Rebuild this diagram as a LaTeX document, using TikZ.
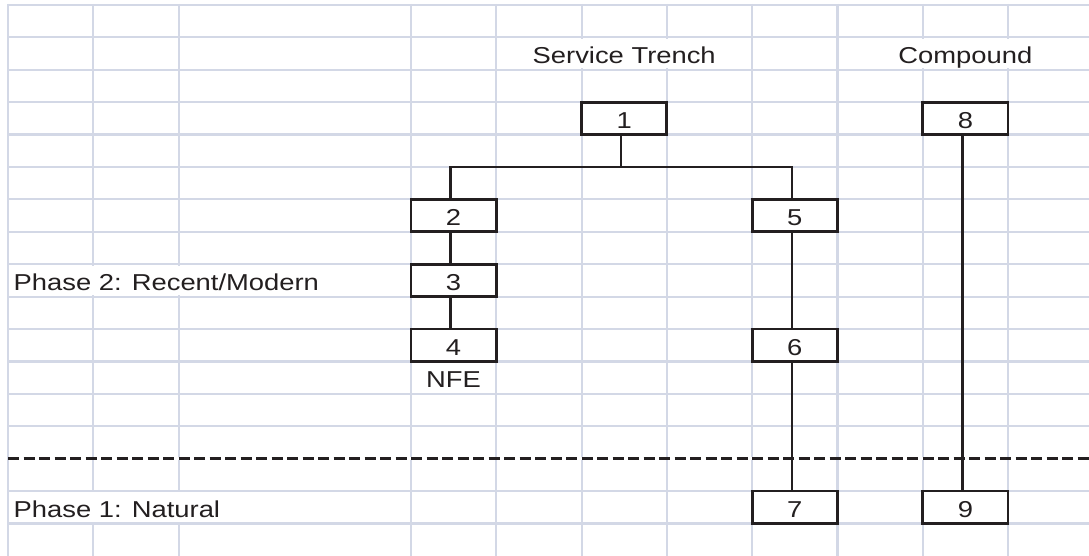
\documentclass[tikz,border=0pt]{standalone}
\usepackage{fontspec}
\setmainfont{Liberation Sans}
\definecolor{gridc}{HTML}{D3D8E6}
\definecolor{inkc}{HTML}{231F20}
\newcommand\wtxt[1]{\scalebox{1.19}[1]{#1}}
\begin{document}
\begin{tikzpicture}[x=1pt,y=-1pt,
  gridline/.style={draw=gridc,line width=2.2pt},
  unitbox/.style={draw=inkc,fill=white,line width=2.8pt,minimum width=85.3pt,minimum height=32.4pt,inner sep=0pt,
    text height=20.4pt,text depth=0pt,text=inkc,font=\fontsize{23}{27}\selectfont},
  link/.style={draw=inkc,line width=2.5pt},
  lbl/.style={inner sep=0pt,text=inkc,font=\fontsize{23}{27}\selectfont},
  phaseline/.style={draw=inkc,line width=2.6pt,dash pattern=on 11pt off 4.5pt}]
\fill[white] (0,0) rectangle (1089,556);
\useasboundingbox (0,0) rectangle (1089,556);
% grid
\foreach \k in {0,...,16}{
  \draw[gridline] (8,{5+32.4*\k}) -- (1089,{5+32.4*\k});
}
\foreach \xx in {8,93.3,178.6,411,496.3,581.6,666.9,752.2,837.5,922.8,1008.1}{
  \draw[gridline] (\xx,4) -- (\xx,556);
}
% cells whose text covers grid lines
\fill[white] (497.6,38.7) rectangle (750.9,68.5);
\fill[white] (838.8,38.7) rectangle (1089,68.5);
\fill[white] (9.3,265.5) rectangle (409.7,295.3);
\fill[white] (9.3,492.3) rectangle (409.7,522.1);
% phase boundary
\draw[white,line width=3pt] (8,458.6) -- (1089,458.6);
\draw[phaseline] (8,458.6) -- (1089,458.6);
% labels
\node[lbl,anchor=base] (st) at (624.2,63.6) {\wtxt{Service Trench}};
\node[lbl,anchor=base] (cp) at (965.4,63.6) {\wtxt{Compound}};
\node[lbl,anchor=base west] (p2) at (13.5,290.8) {\wtxt{Phase 2: Recent/Modern}};
\node[lbl,anchor=base west] (p1) at (13.5,517.6) {\wtxt{Phase 1: Natural}};
\node[lbl,anchor=base] (nfe) at (453.6,387.8) {\wtxt{NFE}};
% boxes
\node[unitbox] (b1) at (624.2,118.4) {\wtxt{1}};
\node[unitbox] (b2) at (453.6,215.6) {\wtxt{2}};
\node[unitbox] (b3) at (453.6,280.4) {\wtxt{3}};
\node[unitbox] (b4) at (453.6,345.2) {\wtxt{4}};
\node[unitbox] (b5) at (794.8,215.6) {\wtxt{5}};
\node[unitbox] (b6) at (794.8,345.2) {\wtxt{6}};
\node[unitbox] (b7) at (794.8,507.2) {\wtxt{7}};
\node[unitbox] (b8) at (965.4,118.4) {\wtxt{8}};
\node[unitbox] (b9) at (965.4,507.2) {\wtxt{9}};
% connectors
\coordinate (jn) at (621.2,167);
\draw[link] ([xshift=-3pt]b1.south) -- (jn);
\draw[link] ([xshift=-3pt]b2.north) |- (jn) -| ([xshift=-3pt]b5.north);
\draw[link] ([xshift=-3pt]b2.south) -- ([xshift=-3pt]b3.north);
\draw[link] ([xshift=-3pt]b3.south) -- ([xshift=-3pt]b4.north);
\draw[link] ([xshift=-3pt]b5.south) -- ([xshift=-3pt]b6.north);
\draw[link] ([xshift=-3pt]b6.south) -- ([xshift=-3pt]b7.north);
\draw[link] ([xshift=-3pt]b8.south) -- ([xshift=-3pt]b9.north);
\end{tikzpicture}
\end{document}
